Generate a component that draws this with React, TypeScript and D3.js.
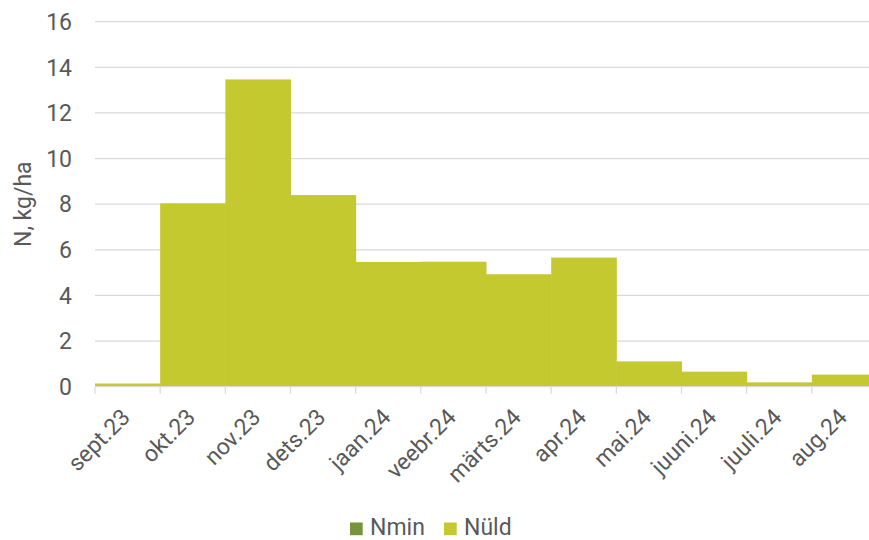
import React from "react";
import * as d3 from "d3";

const months = ["sept.23","okt.23","nov.23","dets.23","jaan.24","veebr.24","märts.24","apr.24","mai.24","juuni.24","juuli.24","aug.24"];
const nmin = [0,0,0,0,0,0,0,0,0,0,0,0];
const nuld = [0.14,8.04,13.47,8.4,5.47,5.48,4.93,5.66,1.11,0.66,0.19,0.53];
const yTicks = [0,2,4,6,8,10,12,14,16];
const seriesNames = ["Nmin","Nüld"];
const colors = ["#77933c","#c4c92f"];

const W = 869, H = 540;
const left = 95, right = 877, top = 21.7, bottom = 386.7;
const FS = 23;

export default function App() {
  const x = d3.scaleBand<string>().domain(months).range([left, right]).padding(0);
  const y = d3.scaleLinear().domain([0, 16]).range([bottom, top]);
  const rows = months.map((m, i) => ({ m, Nmin: nmin[i], "Nüld": nuld[i] }));
  const stack = d3.stack<any>().keys(seriesNames)(rows);
  const font = "Roboto, 'DejaVu Sans', sans-serif";
  const txt = "#595959";
  const bounds = months.map((_, i) => left + i * x.bandwidth()).concat([right]);
  return (
    <svg width={W} height={H} style={{ position: "absolute", left: 0, top: 0 }} fontFamily={font}>
      <rect width={W} height={H} fill="#fff" />
      {yTicks.filter(t => t > 0).map(t => (
        <line key={t} x1={left} x2={right} y1={y(t)} y2={y(t)} stroke="#d9d9d9" strokeWidth={1.2} />
      ))}
      {stack.map((s, si) => (
        <g key={si} fill={colors[si]}>
          {s.map((d, i) => (
            <rect key={i} x={x(months[i])} width={x.bandwidth() + 0.5} y={y(d[1])} height={Math.max(0, y(d[0]) - y(d[1]))} />
          ))}
        </g>
      ))}
      <line x1={left} x2={right} y1={bottom} y2={bottom} stroke="#d9d9d9" strokeWidth={1.2} />
      {bounds.map((b, i) => (
        <line key={i} x1={b} x2={b} y1={bottom} y2={bottom + 7} stroke="#d9d9d9" strokeWidth={1.2} />
      ))}
      {yTicks.map(t => (
        <text key={t} x={72} y={y(t)} dy="0.36em" textAnchor="end" fontSize={FS} fill={txt}>{t}</text>
      ))}
      {months.map(m => (
        <text key={m} transform={`translate(${(x(m) as number) + x.bandwidth() / 2 - 2},${bottom + 26}) rotate(-45)`} textAnchor="end" dy="0.36em" fontSize={FS} fill={txt}>{m}</text>
      ))}
      <text transform={`translate(23,${(top + bottom) / 2}) rotate(-90)`} textAnchor="middle" dy="0.36em" fontSize={FS} fill={txt}>N, kg/ha</text>
      {seriesNames.map((n, i) => {
        const lx = [350, 444][i];
        return (
          <g key={n}>
            <rect x={lx} y={522.5} width={12.7} height={12.7} fill={colors[i]} />
            <text x={lx + 20} y={535} fontSize={FS} fill={txt}>{n}</text>
          </g>
        );
      })}
    </svg>
  );
}
